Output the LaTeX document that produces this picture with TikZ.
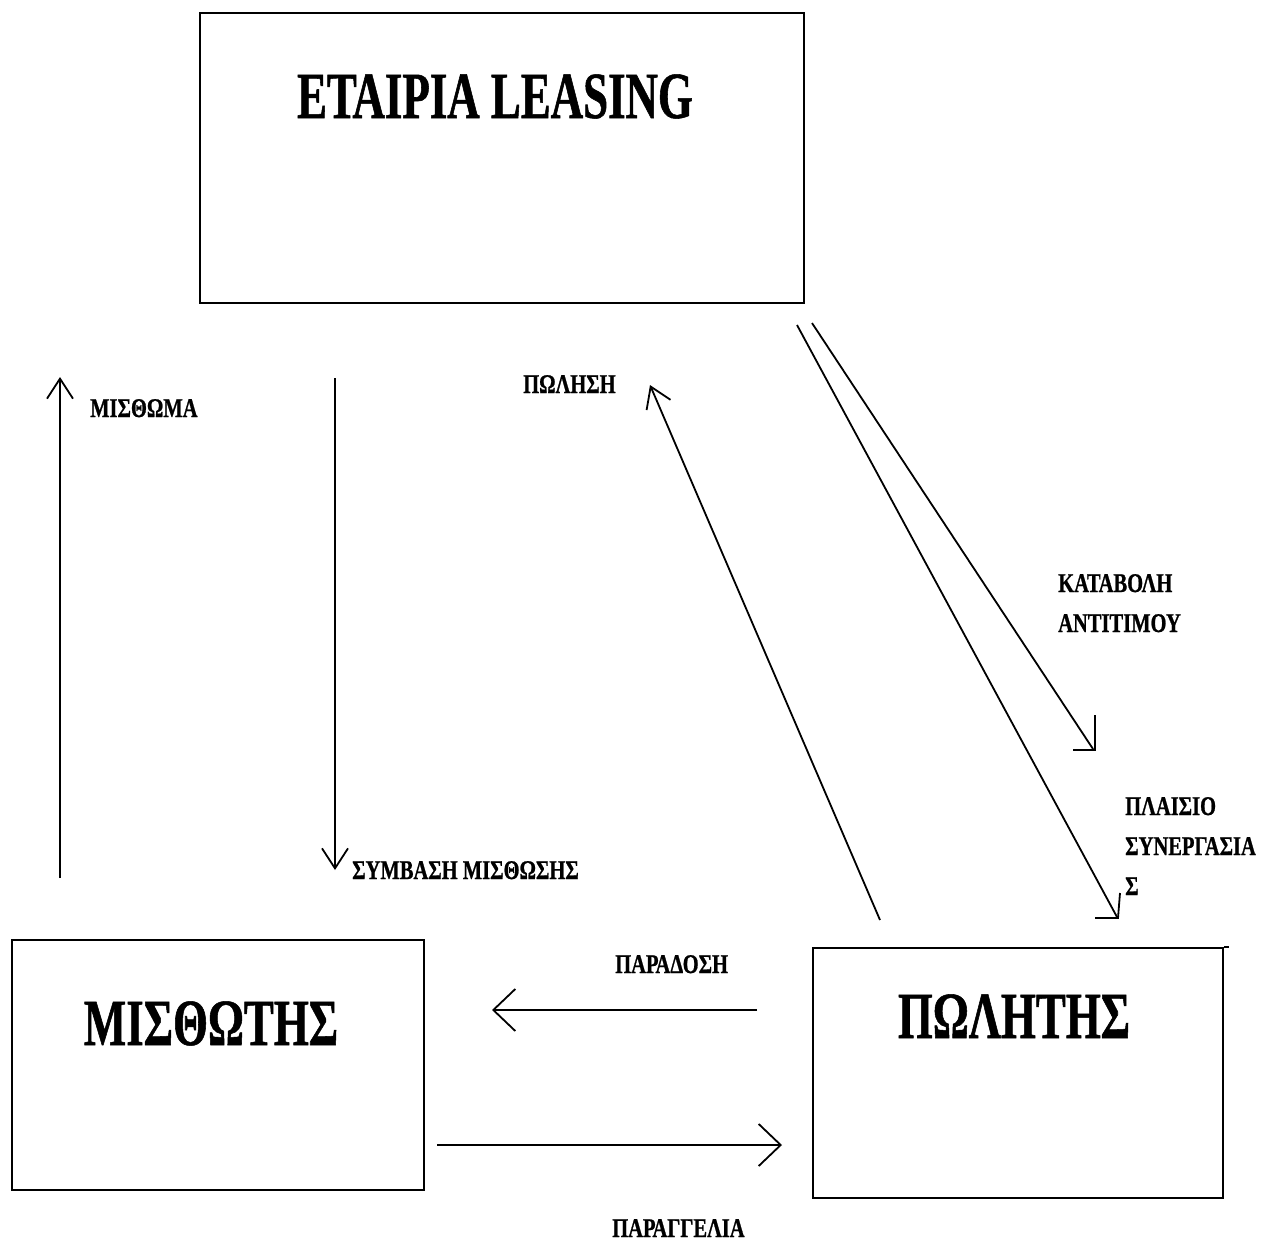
\documentclass[tikz,border=0pt]{standalone}
\usepackage{fontspec}
\setmainfont{Liberation Serif}
\newfontfamily\bigfont{Liberation Serif}[FakeStretch=0.68,FakeBold=0.8]
\newfontfamily\smallfont{Liberation Serif}[FakeStretch=0.76,FakeBold=0.8]
\usetikzlibrary{arrows.meta,calc}
\begin{document}
\begin{tikzpicture}[x=1pt,y=-1pt,
  boxnode/.style={draw, line width=2.4pt, anchor=north west, inner sep=0pt},
  title/.style={font=\bigfont\bfseries\fontsize{66}{70}\selectfont, inner sep=0pt, anchor=base},
  lbl/.style={font=\smallfont\bfseries\fontsize{27}{40}\selectfont, inner sep=0pt, anchor=base west, align=left},
  conn/.style={line width=1.8pt},
  varr/.style={conn, -{Straight Barb[length=20pt,width=26pt,line width=1.8pt]}},
  harr/.style={conn, -{Straight Barb[length=22pt,width=42pt,line width=1.8pt]}}]
\useasboundingbox (0,0) rectangle (1262,1243);
\fill[white] (0,0) rectangle (1262,1243);

% boxes
\node[boxnode, minimum width=604pt, minimum height=290pt] (lease) at (199,12) {};
\node[boxnode, minimum width=412pt, minimum height=250pt] (lessee) at (11,939) {};
\node[boxnode, minimum width=410pt, minimum height=250pt] (seller) at (812,947) {};
\draw[line width=2.4pt] (seller.north east) -- ++(5,0);

% titles
\node[title] (leaseT) at (495,118) {ΕΤΑΙΡΙΑ LEASING};
\node[title] (lesseeT) at (211,1045) {ΜΙΣΘΩΤΗΣ};
\node[title] (sellerT) at (1014,1038) {ΠΩΛΗΤΗΣ};

% connector end points
\coordinate (mA) at (60,878);  \coordinate (mB) at (60,377);
\coordinate (sA) at (335,378); \coordinate (sB) at (335,870);
\coordinate (pA) at (880,920); \coordinate (pB) at (650,385);
\coordinate (kA) at (812,323); \coordinate (kB) at (1093,749);
\coordinate (lA) at (797,325); \coordinate (lB) at (1117,917);
\coordinate (dA) at (757,1010); \coordinate (dB) at (492,1010);
\coordinate (oA) at (437,1145); \coordinate (oB) at (782,1145);

% connectors
\draw[varr] (mA) -- (mB);
\draw[varr] (sA) -- (sB);
\draw[varr] (pA) -- (pB);
\draw[conn] (kA) -- (kB);
\draw[conn] ($(kB)+(-20,1)$) -- ($(kB)+(2,1)$) -- ($(kB)+(2,-34)$);
\draw[conn] (lA) -- (lB);
\draw[conn] ($(lB)+(-22,1)$) -- ($(lB)+(1,1)$) -- ($(lB)+(3,-24)$);
\draw[harr] (dA) -- (dB);
\draw[harr] (oA) -- (oB);

% labels
\node[lbl] (lM) at (90,417) {ΜΙΣΘΩΜΑ};
\node[lbl] (lS) at (352,879) {ΣΥΜΒΑΣΗ ΜΙΣΘΩΣΗΣ};
\node[lbl] (lP) at (523,393) {ΠΩΛΗΣΗ};
\node[lbl] (lK) at (1058,632) {ΚΑΤΑΒΟΛΗ\\ΑΝΤΙΤΙΜΟΥ};
\node[lbl] (lL) at (1125,895) {ΠΛΑΙΣΙΟ\\ΣΥΝΕΡΓΑΣΙΑ\\Σ};
\node[lbl] (lD) at (615,973) {ΠΑΡΑΔΟΣΗ};
\node[lbl] (lO) at (612,1237) {ΠΑΡΑΓΓΕΛΙΑ};
\end{tikzpicture}
\end{document}
